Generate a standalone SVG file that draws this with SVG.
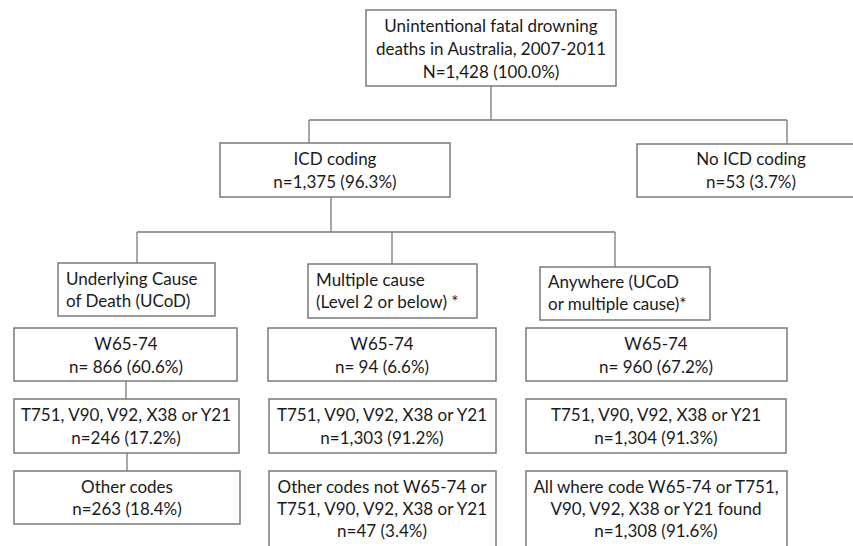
<svg xmlns="http://www.w3.org/2000/svg" width="853" height="546" viewBox="0 0 853 546">
<style>
.box{fill:#fff;stroke:#7a7a7a;stroke-width:1.5}
.ln{stroke:#7a7a7a;stroke-width:1.3;fill:none}
text{font-family:Lato,"Liberation Sans",sans-serif;font-size:17px;fill:#1a1a1a}
.c{text-anchor:middle}
</style>
<rect width="853" height="546" fill="#fff"/>
<g id="connectors">
<path class="ln" d="M491,86V120M309,120H787M309,120V143M787,120V144"/>
<path class="ln" d="M331,197V232M137,232H615M137,232V263M392,232V264M615,232V267"/>
<path class="ln" d="M126,381V399M127,453V471"/>
</g>
<g id="top">
<rect class="box" x="366" y="10" width="250" height="76"/>
<text class="c" x="491" y="32">Unintentional fatal drowning</text>
<text class="c" x="491" y="55">deaths in Australia, 2007-2011</text>
<text class="c" x="491" y="78">N=1,428 (100.0%)</text>
</g>
<g id="icd">
<rect class="box" x="220" y="143" width="230" height="54"/>
<text class="c" x="335" y="165">ICD coding</text>
<text class="c" x="335" y="188">n=1,375 (96.3%)</text>
</g>
<g id="noicd">
<rect class="box" x="637" y="144" width="230" height="53"/>
<text class="c" x="751" y="165">No ICD coding</text>
<text class="c" x="751" y="188">n=53 (3.7%)</text>
</g>
<g id="ucod">
<rect class="box" x="58" y="263" width="157" height="53"/>
<text x="66" y="285">Underlying Cause</text>
<text x="66" y="307">of Death (UCoD)</text>
</g>
<g id="multiple">
<rect class="box" x="308" y="264" width="169" height="54"/>
<text x="316" y="286">Multiple cause</text>
<text x="316" y="308">(Level 2 or below) *</text>
</g>
<g id="anywhere">
<rect class="box" x="540" y="267" width="170" height="53"/>
<text x="548" y="288">Anywhere (UCoD</text>
<text x="548" y="310">or multiple cause)*</text>
</g>
<g id="ucod-w65">
<rect class="box" x="14" y="328" width="223" height="53"/>
<text class="c" x="126" y="350">W65-74</text>
<text class="c" x="126" y="373">n= 866 (60.6%)</text>
</g>
<g id="mult-w65">
<rect class="box" x="268" y="328" width="228" height="53"/>
<text class="c" x="382" y="350">W65-74</text>
<text class="c" x="382" y="373">n= 94 (6.6%)</text>
</g>
<g id="any-w65">
<rect class="box" x="526" y="328" width="261" height="53"/>
<text class="c" x="656" y="350">W65-74</text>
<text class="c" x="656" y="373">n= 960 (67.2%)</text>
</g>
<g id="ucod-t751">
<rect class="box" x="14" y="399" width="225" height="54"/>
<text class="c" x="126" y="421">T751, V90, V92, X38 or Y21</text>
<text class="c" x="126" y="444">n=246 (17.2%)</text>
</g>
<g id="mult-t751">
<rect class="box" x="269" y="399" width="227" height="54"/>
<text class="c" x="382" y="421">T751, V90, V92, X38 or Y21</text>
<text class="c" x="382" y="444">n=1,303 (91.2%)</text>
</g>
<g id="any-t751">
<rect class="box" x="526" y="399" width="260" height="54"/>
<text class="c" x="656" y="421">T751, V90, V92, X38 or Y21</text>
<text class="c" x="656" y="444">n=1,304 (91.3%)</text>
</g>
<g id="ucod-other">
<rect class="box" x="14" y="471" width="226" height="53"/>
<text class="c" x="127" y="493">Other codes</text>
<text class="c" x="127" y="515">n=263 (18.4%)</text>
</g>
<g id="mult-other">
<rect class="box" x="269" y="471" width="227" height="85"/>
<text class="c" x="382" y="493">Other codes not W65-74 or</text>
<text class="c" x="382" y="515">T751, V90, V92, X38 or Y21</text>
<text class="c" x="382" y="537">n=47 (3.4%)</text>
</g>
<g id="any-all">
<rect class="box" x="526" y="471" width="261" height="85"/>
<text class="c" x="656" y="493">All where code W65-74 or T751,</text>
<text class="c" x="656" y="515">V90, V92, X38 or Y21 found</text>
<text class="c" x="656" y="537">n=1,308 (91.6%)</text>
</g>
</svg>
